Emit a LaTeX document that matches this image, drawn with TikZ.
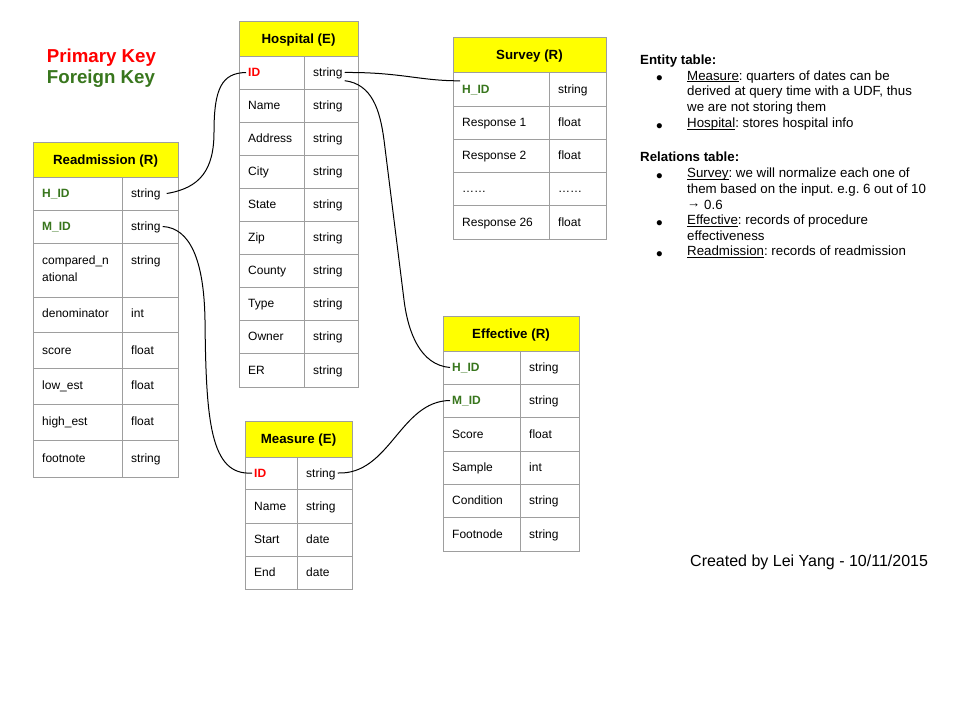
\documentclass[tikz,border=0pt]{standalone}
\usepackage{fontspec}
\setmainfont{Liberation Sans}
\frenchspacing

\definecolor{hdyellow}{HTML}{FFFF00}
\definecolor{pkred}{HTML}{FF0000}
\definecolor{fkgreen}{HTML}{38761D}
\definecolor{gridgray}{HTML}{9E9E9E}

\newcommand{\cellfont}{\fontsize{12}{14}\selectfont}
\newcommand{\headfont}{\fontsize{13.3}{15}\selectfont\bfseries}
\newcommand{\notefont}{\fontsize{13.3}{15.8}\selectfont}
\newcommand{\uword}[1]{\underline{\smash{#1}}}

\tikzset{
    tablebox/.style={draw=gridgray, line width=1pt},
    header/.style={tablebox, fill=hdyellow, font=\headfont, text height=9.5pt, text depth=0pt, inner sep=0pt},
    field/.style={anchor=west, font=\cellfont, inner sep=2pt, text height=10pt, text depth=2pt},
    pkey/.style={field, font=\cellfont\bfseries, text=pkred},
    fkey/.style={field, font=\cellfont\bfseries, text=fkgreen},
    link/.style={draw=black, line width=1pt},
    note/.style={anchor=north west, align=left, font=\notefont, inner sep=0pt},
    dot/.style={anchor=base, font=\fontsize{19}{22}\selectfont, inner sep=0pt},
}

\begin{document}
\begin{tikzpicture}[x=1pt, y=-1pt]
    \useasboundingbox[fill=white] (0,0) rectangle (960,720);

    % legend
    \node[anchor=base west, inner sep=0pt, font=\fontsize{18.7}{22}\selectfont\bfseries, text=pkred] (L_pk) at (46.7, 62.3) {Primary Key};
    \node[anchor=base west, inner sep=0pt, font=\fontsize{18.7}{22}\selectfont\bfseries, text=fkgreen] (L_fk) at (46.7, 83) {Foreign Key};

    % Hospital (E)
    \node[header, minimum width=119pt, minimum height=35pt] (HO) at (298.5, 38.5) {Hospital (E)};
    \draw[tablebox] (239,56) rectangle (358,387) (304,56) -- (304,387)
        (239,89) -- (358,89) (239,122) -- (358,122) (239,155) -- (358,155)
        (239,188) -- (358,188) (239,221) -- (358,221) (239,254) -- (358,254)
        (239,287) -- (358,287) (239,320) -- (358,320) (239,353) -- (358,353);
    \node[pkey] (HO_k1) at (246, 72.5) {ID};       \node[field] (HO_t1) at (311, 72.5) {string};
    \node[field] (HO_k2) at (246, 105.5) {Name};    \node[field] (HO_t2) at (311, 105.5) {string};
    \node[field] (HO_k3) at (246, 138.5) {Address}; \node[field] (HO_t3) at (311, 138.5) {string};
    \node[field] (HO_k4) at (246, 171.5) {City};    \node[field] (HO_t4) at (311, 171.5) {string};
    \node[field] (HO_k5) at (246, 204.5) {State};   \node[field] (HO_t5) at (311, 204.5) {string};
    \node[field] (HO_k6) at (246, 237.5) {Zip};     \node[field] (HO_t6) at (311, 237.5) {string};
    \node[field] (HO_k7) at (246, 270.5) {County};  \node[field] (HO_t7) at (311, 270.5) {string};
    \node[field] (HO_k8) at (246, 303.5) {Type};    \node[field] (HO_t8) at (311, 303.5) {string};
    \node[field] (HO_k9) at (246, 336.5) {Owner};   \node[field] (HO_t9) at (311, 336.5) {string};
    \node[field] (HO_k10) at (246, 370) {ER};       \node[field] (HO_t10) at (311, 370) {string};

    % Readmission (R)
    \node[header, minimum width=145pt, minimum height=35pt] (RA) at (105.5, 159.5) {Readmission (R)};
    \draw[tablebox] (33,177) rectangle (178,477) (122,177) -- (122,477)
        (33,210) -- (178,210) (33,243) -- (178,243) (33,297) -- (178,297)
        (33,332) -- (178,332) (33,368) -- (178,368) (33,404) -- (178,404)
        (33,440) -- (178,440);
    \node[fkey] (RA_k1) at (40, 193.5) {H\_ID};  \node[field] (RA_t1) at (129, 193.5) {string};
    \node[fkey] (RA_k2) at (40, 226.5) {M\_ID};  \node[field] (RA_t2) at (129, 226.5) {string};
    \node[anchor=north west, align=left, inner sep=2pt, font=\fontsize{12}{17}\selectfont] (RA_k3) at (40, 250.1) {\strut compared\_n\\ational};
    \node[field] (RA_t3) at (129, 260) {string};
    \node[field] (RA_k4) at (40, 313.5) {denominator}; \node[field] (RA_t4) at (129, 313.5) {int};
    \node[field] (RA_k5) at (40, 350) {score};     \node[field] (RA_t5) at (129, 350) {float};
    \node[field] (RA_k6) at (40, 385.5) {low\_est};  \node[field] (RA_t6) at (129, 385.5) {float};
    \node[field] (RA_k7) at (40, 421.5) {high\_est}; \node[field] (RA_t7) at (129, 421.5) {float};
    \node[field] (RA_k8) at (40, 458) {footnote};  \node[field] (RA_t8) at (129, 458) {string};

    % Survey (R)
    \node[header, minimum width=153pt, minimum height=35pt] (SV) at (529.5, 54.5) {Survey (R)};
    \draw[tablebox] (453,72) rectangle (606,239) (549,72) -- (549,239)
        (453,106) -- (606,106) (453,139) -- (606,139) (453,172) -- (606,172)
        (453,205) -- (606,205);
    \node[fkey] (SV_k1) at (460, 89) {H\_ID};        \node[field] (SV_t1) at (556, 89) {string};
    \node[field] (SV_k2) at (460, 122.5) {Response 1}; \node[field] (SV_t2) at (556, 122.5) {float};
    \node[field] (SV_k3) at (460, 155.5) {Response 2}; \node[field] (SV_t3) at (556, 155.5) {float};
    \node[field] (SV_k4) at (460, 188.5) {……};         \node[field] (SV_t4) at (556, 188.5) {……};
    \node[field] (SV_k5) at (460, 222) {Response 26};  \node[field] (SV_t5) at (556, 222) {float};

    % Effective (R)
    \node[header, minimum width=136pt, minimum height=35pt] (EF) at (511, 333.5) {Effective (R)};
    \draw[tablebox] (443,351) rectangle (579,551) (520,351) -- (520,551)
        (443,384) -- (579,384) (443,417) -- (579,417) (443,451) -- (579,451)
        (443,484) -- (579,484) (443,517) -- (579,517);
    \node[fkey] (EF_k1) at (450, 367.5) {H\_ID};     \node[field] (EF_t1) at (527, 367.5) {string};
    \node[fkey] (EF_k2) at (450, 400.5) {M\_ID};     \node[field] (EF_t2) at (527, 400.5) {string};
    \node[field] (EF_k3) at (450, 434) {Score};      \node[field] (EF_t3) at (527, 434) {float};
    \node[field] (EF_k4) at (450, 467.5) {Sample};   \node[field] (EF_t4) at (527, 467.5) {int};
    \node[field] (EF_k5) at (450, 500.5) {Condition}; \node[field] (EF_t5) at (527, 500.5) {string};
    \node[field] (EF_k6) at (450, 534) {Footnode};   \node[field] (EF_t6) at (527, 534) {string};

    % Measure (E)
    \node[header, minimum width=107pt, minimum height=36pt] (MS) at (298.5, 439) {Measure (E)};
    \draw[tablebox] (245,457) rectangle (352,589) (297,457) -- (297,589)
        (245,489) -- (352,489) (245,523) -- (352,523) (245,556) -- (352,556);
    \node[pkey] (MS_k1) at (252, 473) {ID};      \node[field] (MS_t1) at (304, 473) {string};
    \node[field] (MS_k2) at (252, 506) {Name};   \node[field] (MS_t2) at (304, 506) {string};
    \node[field] (MS_k3) at (252, 539.5) {Start}; \node[field] (MS_t3) at (304, 539.5) {date};
    \node[field] (MS_k4) at (252, 572.5) {End};  \node[field] (MS_t4) at (304, 572.5) {date};

    % key links
    \draw[link] ([xshift=4pt]RA_t1.east) .. controls (200,188) and (214,170) .. (214,132)
        .. controls (214,88) and (222,73) .. (HO_k1.west);
    \draw[link] (RA_t2.east) .. controls (190,228) and (204,260) .. (205,320)
        .. controls (206,420) and (210,476) .. (MS_k1.west);
    \draw[link] (HO_t1.east) .. controls (400,72) and (420,81) .. (SV_k1.north west);
    \draw[link] (HO_t1.south east) .. controls (372,84) and (380,110) .. (384,140)
        -- (404,300) .. controls (408,332) and (420,365) .. (EF_k1.west);
    \draw[link] (MS_t1.east) .. controls (390,475) and (400,401) .. (EF_k2.west);

    % notes
    \node[note, font=\notefont\bfseries] (N_ent) at (640, 52.9) {\strut Entity table:};
    \node[dot] (N_d1) at (659.5, 84.5) {•};
    \node[note] (N_ms) at (687, 68.9) {\strut\uword{Measure}: quarters of dates can be\\derived at query time with a UDF, thus\\we are not storing them};
    \node[dot] (N_d2) at (659.5, 132) {•};
    \node[note] (N_ho) at (687, 116.4) {\strut\uword{Hospital}: stores hospital info};

    \node[note, font=\notefont\bfseries] (N_rel) at (640, 150.4) {\strut Relations table:};
    \node[dot] (N_d3) at (659.5, 182) {•};
    \node[note] (N_sv) at (687, 166.4) {\strut\uword{Survey}: we will normalize each one of\\them based on the input. e.g. 6 out of 10\\\raisebox{1.5pt}{→} 0.6};
    \node[dot] (N_d4) at (659.5, 229) {•};
    \node[note] (N_ef) at (687, 213.4) {\strut\uword{Effective}: records of procedure\\effectiveness};
    \node[dot] (N_d5) at (659.5, 260) {•};
    \node[note] (N_ra) at (687, 244.4) {\strut\uword{Readmission}: records of readmission};

    \node[anchor=base west, inner sep=0pt, font=\fontsize{16}{19}\selectfont] (credit) at (690, 566.3) {Created by Lei Yang - 10/11/2015};
\end{tikzpicture}
\end{document}
